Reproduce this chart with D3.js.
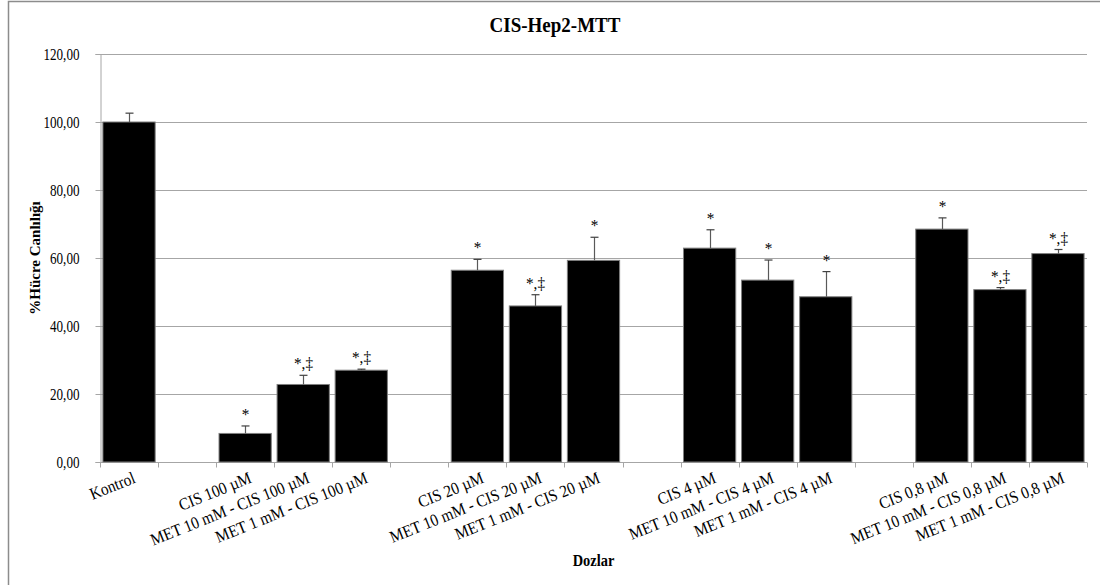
<!DOCTYPE html>
<html>
<head>
<meta charset="utf-8">
<script src="https://cdn.jsdelivr.net/npm/d3@7"></script>
<style>
  body { margin: 0; background: #fff; }
  svg text { font-family: "Liberation Serif", "Times New Roman", serif; fill: #000; }
</style>
</head>
<body>
<div id="chart"></div>
<script>
// kategoriler (bos olanlar gruplar arasi bosluk)
var categories = ["Kontrol", "",
    "CIS 100 µM", "MET 10 mM - CIS 100 µM", "MET 1 mM - CIS 100 µM", "",
    "CIS 20 µM", "MET 10 mM - CIS 20 µM", "MET 1 mM - CIS 20 µM", "",
    "CIS 4 µM", "MET 10 mM - CIS 4 µM", "MET 1 mM - CIS 4 µM", "",
    "CIS 0,8 µM", "MET 10 mM - CIS 0,8 µM", "MET 1 mM - CIS 0,8 µM"];
var values = [100, null, 8.4, 22.8, 27.0, null, 56.4, 45.9, 59.3, null, 62.9, 53.5, 48.6, null, 68.5, 50.7, 61.3];
var errors = [2.6, null, 2.2, 2.7, 0.3, null, 3.2, 3.3, 6.8, null, 5.4, 5.9, 7.4, null, 3.3, 0.6, 1.2];
var marks = ["", "", "*", "*,‡", "*,‡", "", "*", "*,‡", "*", "", "*", "*", "*", "", "*", "*,‡", "*,‡"];
var yTicks = [0, 20, 40, 60, 80, 100, 120];

var width = 1100, height = 585;
var margin = {top: 54, right: 13, bottom: 123, left: 100};

var svg = d3.select("#chart").append("svg")
    .attr("width", width)
    .attr("height", height);

// cerceve
svg.append("rect")
    .attr("x", 8.5).attr("y", 1.5)
    .attr("width", width).attr("height", height)
    .attr("fill", "none")
    .attr("stroke", "#8c8c8c")
    .attr("stroke-width", 1.5);

var idx = d3.range(categories.length);
var x = d3.scaleBand()
    .domain(idx)
    .range([margin.left, width - margin.right])
    .paddingInner(0.1)
    .paddingOuter(0.05);

var y = d3.scaleLinear()
    .domain([0, 120])
    .range([height - margin.bottom, margin.top]);

var x0 = margin.left, x1 = width - margin.right;
var step = (x1 - x0) / categories.length;

// grid
svg.append("g")
    .selectAll("line")
    .data(yTicks.slice(1))
    .enter()
    .append("line")
    .attr("x1", x0).attr("x2", x1)
    .attr("y1", function (d) { return Math.round(y(d)) + 0.5; })
    .attr("y2", function (d) { return Math.round(y(d)) + 0.5; })
    .attr("stroke", "#a6a6a6");

// y ekseni
var yAxis = svg.append("g")
    .attr("transform", "translate(" + (x0 + 0.5) + ",0)")
    .call(d3.axisLeft(y).tickValues(yTicks).tickSize(5).tickPadding(7)
        .tickFormat(function (d) { return d3.format(".2f")(d).replace(".", ","); }));
yAxis.select(".domain").attr("stroke", "#a6a6a6");
yAxis.selectAll(".tick line").attr("stroke", "#a6a6a6");
// resimdeki yazilar biraz dar, o yuzden scale ile sikistiriyoruz
yAxis.selectAll(".tick text")
    .attr("x", null).attr("dy", null)
    .attr("transform", "translate(-21,5) scale(0.82,1)")
    .attr("font-size", 16);

// x ekseni
var base = Math.round(y(0)) + 0.5;
svg.append("line")
    .attr("x1", x0).attr("x2", x1)
    .attr("y1", base).attr("y2", base)
    .attr("stroke", "#a6a6a6");
svg.append("g")
    .selectAll("line")
    .data(d3.range(categories.length + 1))
    .enter()
    .append("line")
    .attr("x1", function (i) { return Math.round(x0 + i * step) + 0.5; })
    .attr("x2", function (i) { return Math.round(x0 + i * step) + 0.5; })
    .attr("y1", base).attr("y2", base + 5)
    .attr("stroke", "#a6a6a6");

// barlar
var data = idx.filter(function (i) { return values[i] !== null; });
svg.append("g")
    .selectAll("rect")
    .data(data)
    .enter()
    .append("rect")
    .attr("x", function (i) { return x(i); })
    .attr("y", function (i) { return y(values[i]); })
    .attr("width", x.bandwidth())
    .attr("height", function (i) { return y(0) - y(values[i]); })
    .attr("fill", "#000")
    .attr("stroke", "#7f7f7f")
    .attr("stroke-width", 1);

// hata cubuklari + isaretler
var err = svg.append("g");
data.forEach(function (i) {
    var cx = Math.round(x(i) + x.bandwidth() / 2) + 0.5;
    var top = y(values[i] + errors[i]);
    err.append("line")
        .attr("x1", cx).attr("x2", cx)
        .attr("y1", y(values[i])).attr("y2", top)
        .attr("stroke", "#595959").attr("stroke-width", 1.2);
    err.append("line")
        .attr("x1", cx - 4).attr("x2", cx + 4)
        .attr("y1", top).attr("y2", top)
        .attr("stroke", "#404040").attr("stroke-width", 1.2);
    svg.append("text")
        .attr("transform", "translate(" + cx + "," + (top - 6) + ") scale(0.9,1)")
        .attr("text-anchor", "middle")
        .attr("font-size", 17)
        .text(marks[i]);
});

// x etiketleri
svg.append("g")
    .selectAll("text")
    .data(idx.filter(function (i) { return categories[i] !== ""; }))
    .enter()
    .append("text")
    .attr("transform", function (i) {
        return "translate(" + (x(i) + x.bandwidth() / 2 + 3) + "," + 471 + ") rotate(-22) scale(0.9,1)";
    })
    .attr("text-anchor", "end")
    .attr("dy", "0.71em")
    .attr("font-size", 17)
    .text(function (i) { return categories[i]; });

// basliklar
svg.append("text")
    .attr("transform", "translate(555,32) scale(0.95,1)")
    .attr("text-anchor", "middle")
    .attr("font-size", 20).attr("font-weight", "bold")
    .text("CIS-Hep2-MTT");

svg.append("text")
    .attr("transform", "translate(" + ((x0 + x1) / 2) + ",566) scale(0.9,1)")
    .attr("text-anchor", "middle")
    .attr("font-size", 16).attr("font-weight", "bold")
    .text("Dozlar");

svg.append("text")
    .attr("transform", "translate(40," + ((y(0) + y(120)) / 2) + ") rotate(-90)")
    .attr("text-anchor", "middle")
    .attr("font-size", 15).attr("font-weight", "bold")
    .text("%Hücre Canlılığı");
</script>
</body>
</html>
